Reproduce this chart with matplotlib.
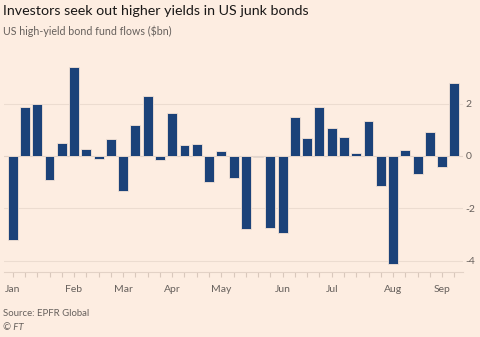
import matplotlib.pyplot as plt
import pandas as pd

# weekly US high-yield bond fund flows, $bn
weeks = pd.date_range('2018-01-02', periods=37, freq='7D')
flows = [-3.2, 1.87, 1.98, -0.9, 0.49, 3.4, 0.27, -0.1, 0.63, -1.32,
         1.18, 2.28, -0.15, 1.63, 0.41, 0.46, -0.99, 0.17, -0.86, -2.8,
         -0.05, -2.76, -2.95, 1.49, 0.68, 1.85, 1.08, 0.72, 0.1, 1.33,
         -1.16, -4.13, 0.23, -0.7, 0.92, -0.41, 2.8]
yticks = [2, 0, -2, -4]

bg = '#fdede1'
bar_color = '#1b4279'
grid_color = '#ecdcd0'
text_grey = '#66605c'

plt.rcParams['font.family'] = ['Lato', 'DejaVu Sans']

fig = plt.figure(figsize=(4.8, 3.37), dpi=100, facecolor=bg)
ax = fig.add_axes([4 / 480, 1 - 272 / 337, 459 / 480, 213 / 337], facecolor=bg)

x = range(len(weeks))
ax.bar(x, flows, width=0.81, color=bar_color, edgecolor='#f6e4d6',
       linewidth=0.6, zorder=3)

ax.set_xlim(-0.71, 36.7)
ax.set_ylim(-4.43, 3.7)

for v in yticks:
    ax.axhline(v, color='#e3d2c6' if v == 0 else grid_color, lw=0.8, zorder=1)

# month labels sit on the first week of each month
labels = []
for i, d in enumerate(weeks):
    if i == 0 or d.month != weeks[i - 1].month:
        labels.append(d.strftime('%b'))
    else:
        labels.append('')
ax.set_xticks(list(x))
ax.set_xticklabels(labels, fontsize=7.5, color=text_grey)
for t, lab in zip(ax.xaxis.get_major_ticks(), labels):
    t.tick1line.set_markersize(8 if lab else 5)
ax.tick_params(axis='x', colors='#d9c8bc', width=0.8, pad=6, labelcolor=text_grey)

ax.yaxis.tick_right()
ax.set_yticks(yticks)
ax.set_yticklabels([str(v) for v in yticks], fontsize=7.5, color=text_grey)
ax.tick_params(axis='y', length=0, pad=2)

for side in ['top', 'left', 'right']:
    ax.spines[side].set_visible(False)
ax.spines['bottom'].set_color('#e3d2c6')
ax.spines['bottom'].set_linewidth(0.8)

fig.text(3 / 480, 1 - 11 / 337, 'Investors seek out higher yields in US junk bonds',
         fontsize=10.3, color='#1a1817', va='center', ha='left')
fig.text(3 / 480, 1 - 31 / 337, 'US high-yield bond fund flows ($bn)',
         fontsize=7.7, color=text_grey, va='center', ha='left')
fig.text(3 / 480, 1 - 314 / 337, 'Source: EPFR Global',
         fontsize=6.9, color=text_grey, va='center', ha='left')
fig.text(3 / 480, 1 - 327 / 337, '\u00a9 FT', fontsize=6.9, color=text_grey,
         style='italic', va='center', ha='left')

fig.savefig('out.png', dpi=100, facecolor=bg)
